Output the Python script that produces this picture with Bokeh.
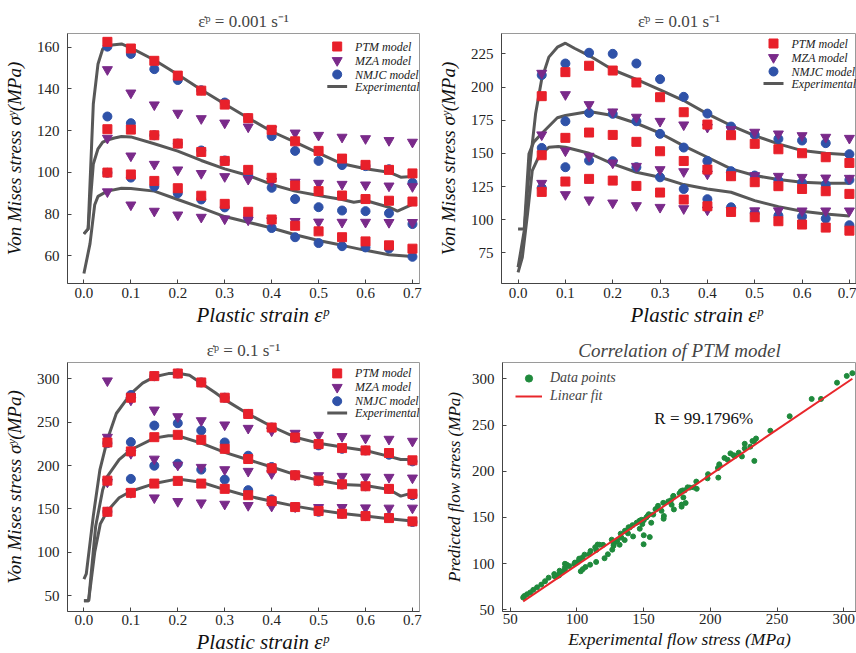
import numpy as np
from bokeh.plotting import figure
from bokeh.layouts import column, row
from bokeh.models import (Legend, LegendItem, FixedTicker, NumeralTickFormatter,
                          Label, Range1d, Title)
from bokeh.embed import file_html
from bokeh.resources import INLINE

# ---------------- data ----------------
strain_grid = [0.05, 0.1, 0.15, 0.2, 0.25, 0.3, 0.35, 0.4, 0.45, 0.5, 0.55, 0.6, 0.65, 0.7]
strain_ticks = [0.0, 0.1, 0.2, 0.3, 0.4, 0.5, 0.6, 0.7]
legend_labels = ["PTM model", "MZA model", "NMJC model", "Experimental"]

# rate 0.001 s^-1
r1_title = "ε̇ᵖ = 0.001 s⁻¹"
r1_yticks = [60, 80, 100, 120, 140, 160]
r1_ptm_hi = [162.6, 159.4, 153.5, 146.4, 139.2, 132.5, 126.0, 120.4, 114.9, 110.3, 106.6, 103.6, 101.2, 99.5]
r1_ptm_mid = [120.7, 120.5, 117.8, 113.8, 109.8, 105.5, 101.2, 97.4, 93.7, 91.0, 88.9, 87.2, 86.4, 86.0]
r1_ptm_lo = [99.9, 99.0, 95.9, 92.4, 88.8, 84.9, 81.1, 77.4, 74.4, 71.7, 68.9, 66.9, 65.0, 63.4]
r1_mza_hi = [149.3, 138.1, 132.4, 128.4, 125.8, 123.7, 121.8, 120.6, 118.9, 117.8, 116.9, 116.2, 115.3, 114.5]
r1_mza_mid = [116.4, 107.9, 103.9, 101.2, 99.5, 98.0, 96.7, 95.8, 95.3, 94.8, 94.3, 94.0, 93.5, 93.2]
r1_mza_lo = [90.7, 84.4, 81.4, 79.6, 78.5, 77.7, 77.2, 76.8, 76.5, 76.2, 76.1, 76.1, 76.0, 76.0]
r1_nmjc_hi = [160.3, 156.8, 149.5, 144.3, 139.4, 133.5, 126.0, 117.4, 110.3, 105.5, 103.5, 103.0, 101.5, 95.0]
r1_nmjc_mid = [126.8, 123.6, 117.8, 113.8, 110.5, 105.7, 98.7, 92.6, 87.2, 83.3, 81.7, 81.4, 80.4, 75.2]
r1_nmjc_lo = [99.8, 97.5, 93.2, 90.0, 87.0, 83.2, 78.2, 73.3, 68.9, 66.1, 64.6, 64.0, 63.5, 59.5]
r1_exp_hi_x = [0.0, 0.009, 0.02, 0.03, 0.04, 0.05, 0.08, 0.1, 0.15, 0.2, 0.25, 0.3, 0.35, 0.4, 0.45, 0.5, 0.55, 0.6, 0.65, 0.675, 0.7]
r1_exp_hi_y = [70.5, 72.9, 132.8, 152.0, 159.2, 160.8, 161.6, 159.7, 153.9, 146.9, 139.6, 132.8, 126.1, 119.6, 114.5, 109.2, 104.1, 101.7, 100.1, 97.7, 98.0]
r1_exp_mid_x = [0.0, 0.009, 0.02, 0.03, 0.04, 0.05, 0.065, 0.08, 0.1, 0.15, 0.2, 0.25, 0.3, 0.35, 0.4, 0.45, 0.5, 0.55, 0.575, 0.6, 0.65, 0.668, 0.7]
r1_exp_mid_y = [70.5, 72.9, 104.0, 111.3, 114.5, 115.5, 116.5, 117.2, 117.0, 113.7, 110.2, 105.7, 101.7, 98.5, 94.2, 91.0, 88.9, 87.0, 85.7, 86.5, 83.3, 81.4, 84.6]
r1_exp_lo_x = [0.0, 0.013, 0.023, 0.03, 0.05, 0.08, 0.1, 0.15, 0.2, 0.25, 0.3, 0.35, 0.4, 0.45, 0.5, 0.55, 0.6, 0.65, 0.7]
r1_exp_lo_y = [51.5, 65.8, 84.5, 88.5, 91.0, 92.4, 92.3, 91.0, 87.0, 83.0, 78.8, 76.1, 73.3, 70.1, 67.3, 65.0, 62.6, 60.5, 59.7]

# rate 0.01 s^-1
r2_title = "ε̇ᵖ = 0.01 s⁻¹"
r2_yticks = [75, 100, 125, 150, 175, 200, 225]
r2_ptm_hi = [193.1, 211.2, 216.0, 212.4, 203.4, 192.3, 181.0, 171.7, 163.7, 157.2, 153.1, 150.1, 147.1, 142.8]
r2_ptm_mid = [148.6, 161.7, 165.7, 163.9, 158.7, 151.6, 144.3, 137.8, 132.8, 128.3, 125.3, 123.2, 121.5, 119.5]
r2_ptm_lo = [121.0, 128.8, 130.8, 129.5, 125.5, 120.5, 115.2, 110.2, 105.9, 101.9, 98.9, 96.4, 94.1, 91.8]
r2_mza_hi = [210.4, 194.3, 186.8, 181.3, 177.3, 174.2, 171.5, 169.7, 168.0, 166.0, 164.7, 163.4, 162.2, 161.4]
r2_mza_mid = [164.0, 151.9, 147.9, 142.8, 140.3, 137.8, 136.3, 134.5, 133.8, 133.3, 132.8, 132.0, 131.5, 131.3]
r2_mza_lo = [127.5, 119.0, 115.0, 112.7, 110.7, 109.4, 108.4, 107.4, 106.9, 106.8, 106.8, 106.7, 106.7, 106.7]
r2_nmjc_hi = [209.0, 217.7, 225.8, 225.0, 217.7, 205.9, 192.6, 180.0, 170.2, 164.0, 160.9, 159.7, 157.7, 149.4]
r2_nmjc_mid = [154.1, 174.2, 180.5, 179.8, 174.2, 164.7, 154.4, 144.3, 136.6, 133.3, 129.5, 128.0, 126.5, 130.0]
r2_nmjc_lo = [124.0, 139.6, 144.6, 144.1, 139.6, 132.0, 123.2, 115.5, 109.4, 105.2, 103.1, 102.4, 100.9, 95.9]
r2_exp_hi_x = [0.0, 0.013, 0.023, 0.037, 0.05, 0.065, 0.083, 0.1, 0.12, 0.15, 0.2, 0.25, 0.3, 0.35, 0.4, 0.45, 0.5, 0.55, 0.6, 0.65, 0.7]
r2_exp_hi_y = [64.2, 91.8, 134.5, 179.8, 206.0, 222.5, 230.0, 233.0, 229.0, 223.7, 213.0, 205.7, 197.9, 189.8, 179.8, 171.0, 163.4, 157.2, 152.1, 150.1, 149.0]
r2_exp_mid_x = [0.0, 0.013, 0.023, 0.033, 0.05, 0.083, 0.1, 0.15, 0.2, 0.25, 0.3, 0.35, 0.4, 0.45, 0.5, 0.55, 0.6, 0.65, 0.7]
r2_exp_mid_y = [93.0, 93.0, 149.6, 158.5, 165.0, 176.8, 178.5, 181.5, 178.5, 172.7, 165.2, 155.7, 147.1, 138.3, 133.3, 130.3, 128.3, 127.5, 127.5]
r2_exp_lo_x = [0.0, 0.009, 0.02, 0.03, 0.045, 0.05, 0.065, 0.085, 0.1, 0.15, 0.2, 0.25, 0.3, 0.35, 0.4, 0.45, 0.5, 0.55, 0.6, 0.65, 0.7]
r2_exp_lo_y = [60.4, 71.7, 104.4, 137.0, 148.5, 150.0, 154.6, 155.2, 154.6, 150.1, 142.1, 135.8, 132.0, 126.5, 123.2, 120.7, 114.4, 109.9, 106.4, 104.4, 102.9]

# rate 0.1 s^-1
r3_title = "ε̇ᵖ = 0.1 s⁻¹"
r3_yticks = [50, 100, 150, 200, 250, 300]
r3_ptm_hi = [226.6, 278.2, 303.1, 306.1, 295.8, 278.2, 259.5, 243.8, 232.3, 224.7, 220.1, 217.4, 214.4, 206.0]
r3_ptm_mid = [182.6, 216.3, 232.7, 235.4, 229.7, 219.3, 207.5, 196.8, 188.8, 182.6, 178.4, 176.1, 173.1, 167.4]
r3_ptm_lo = [146.7, 168.5, 179.2, 182.3, 179.2, 173.1, 165.8, 158.9, 152.1, 147.5, 144.4, 141.7, 139.4, 135.6]
r3_mza_hi = [297.7, 275.5, 264.1, 256.4, 251.8, 246.9, 243.0, 240.0, 237.3, 235.0, 233.5, 231.6, 230.4, 228.1]
r3_mza_mid = [232.7, 214.0, 207.5, 200.5, 198.0, 195.3, 193.4, 190.7, 189.1, 188.4, 187.6, 186.9, 186.5, 185.7]
r3_mza_lo = [181.0, 169.0, 162.8, 158.6, 157.0, 155.5, 154.0, 153.2, 152.4, 151.7, 151.7, 151.3, 151.0, 151.0]
r3_nmjc_hi = [225.8, 281.3, 303.0, 306.1, 295.8, 278.2, 259.5, 243.8, 231.5, 223.2, 219.3, 217.4, 212.5, 204.8]
r3_nmjc_mid = [182.6, 227.0, 246.1, 248.8, 240.4, 226.6, 211.3, 198.3, 188.8, 181.9, 178.0, 176.1, 173.1, 165.8]
r3_nmjc_lo = [146.7, 184.6, 199.8, 202.1, 195.3, 183.8, 171.6, 160.9, 152.1, 146.7, 144.4, 141.7, 140.5, 134.9]
r3_exp_hi_x = [0.0, 0.005, 0.02, 0.034, 0.05, 0.069, 0.1, 0.125, 0.15, 0.18, 0.2, 0.225, 0.25, 0.28, 0.3, 0.35, 0.4, 0.45, 0.5, 0.55, 0.6, 0.65, 0.675, 0.7]
r3_exp_hi_y = [69.0, 75.0, 142.0, 195.0, 230.0, 260.0, 283.0, 295.0, 302.3, 306.0, 306.5, 304.0, 295.0, 284.0, 276.0, 259.5, 245.0, 232.7, 225.8, 221.3, 217.4, 210.6, 207.0, 207.0]
r3_exp_mid_x = [0.0, 0.01, 0.025, 0.04, 0.05, 0.075, 0.1, 0.15, 0.18, 0.2, 0.25, 0.3, 0.35, 0.4, 0.45, 0.5, 0.55, 0.6, 0.65, 0.675, 0.7]
r3_exp_mid_y = [44.0, 44.0, 130.0, 172.0, 187.6, 206.7, 218.2, 231.6, 234.3, 234.3, 225.8, 215.1, 206.7, 198.3, 189.5, 183.0, 178.0, 176.9, 172.3, 164.7, 168.5]
r3_exp_lo_x = [0.0, 0.01, 0.023, 0.035, 0.05, 0.075, 0.1, 0.15, 0.2, 0.25, 0.3, 0.35, 0.4, 0.45, 0.5, 0.55, 0.6, 0.65, 0.7]
r3_exp_lo_y = [44.0, 44.0, 100.0, 133.0, 147.5, 162.8, 170.4, 179.2, 184.6, 180.7, 172.3, 164.7, 158.9, 153.2, 148.6, 144.8, 141.7, 138.7, 136.0]

stress_ticks = [50, 100, 150, 200, 250, 300]
r_text = "R = 99.1796%"

# ---------------- style ----------------
FONT = "Liberation Serif"
C_PTM = "#e8202a"
C_MZA = "#7a2a8a"
C_NMJC = "#2f52a8"
C_EXP = "#585858"
C_GREEN = "#1f8a3c"
C_FIT = "#e8262b"


def style_axes(p, xticks, yticks, xfmt, bottom_pad):
    p.xaxis.ticker = FixedTicker(ticks=xticks)
    p.yaxis.ticker = FixedTicker(ticks=yticks)
    if xfmt:
        p.xaxis.formatter = NumeralTickFormatter(format="0.0")
    p.xgrid.visible = False
    p.ygrid.visible = False
    p.outline_line_color = "#9a9a9a"
    p.outline_line_width = 1
    for ax in p.axis:
        ax.major_tick_in = 4
        ax.major_tick_out = 0
        ax.minor_tick_in = 0
        ax.minor_tick_out = 0
        ax.axis_line_color = "#444444"
        ax.major_tick_line_color = "#444444"
        ax.major_label_text_font = FONT
        ax.major_label_text_font_size = "15px"
        ax.major_label_text_color = "#222222"
        ax.major_label_text_line_height = 1.0
        ax.axis_label_text_font = FONT
        ax.axis_label_text_font_style = "italic"
        ax.axis_label_text_color = "#111111"
        ax.axis_label_text_line_height = 1.0
    p.yaxis.major_label_standoff = 8
    p.yaxis.axis_label_standoff = 9
    p.xaxis.major_label_standoff = bottom_pad
    p.xaxis.axis_label_standoff = bottom_pad


def strain_panel(title, yticks, yr, ptm, mza, nmjc, exps, w, h, left, right, top, bottom,
                 pad, leg_rows):
    p = figure(width=w, height=h, x_range=Range1d(-0.035, 0.715), y_range=Range1d(*yr),
               output_backend="svg", toolbar_location=None,
               min_border_left=left, min_border_right=right,
               min_border_top=top, min_border_bottom=bottom)
    p.title.text = title
    p.title.align = "center"
    p.title.text_font = FONT
    p.title.text_font_size = "17px"
    p.title.text_font_style = "normal"
    p.title.standoff = 5
    for ex, ey in exps:
        p.line(ex, ey, line_color=C_EXP, line_width=3)
    xs = strain_grid * 3
    p.scatter(xs, nmjc[0] + nmjc[1] + nmjc[2], marker="circle", size=9,
              fill_color=C_NMJC, line_color=C_NMJC)
    p.scatter(xs, mza[0] + mza[1] + mza[2], marker="inverted_triangle", size=10,
              fill_color=C_MZA, line_color=C_MZA)
    p.scatter(xs, ptm[0] + ptm[1] + ptm[2], marker="square", size=9,
              fill_color=C_PTM, line_color=C_PTM)
    p.yaxis.axis_label = "Von Mises stress σʸ(MPa)"
    p.yaxis.axis_label_text_font_size = "19px"
    style_axes(p, strain_ticks, yticks, True, pad)
    p.add_layout(Title(text="Plastic strain εᵖ", align="left", offset=129,
                       text_font=FONT, text_font_style="italic", text_font_size="21px",
                       text_color="#111111", standoff=0), "below")

    # legend drawn in frame pixel units (decoration only)
    fw = w - left - right
    fh = h - top - bottom
    p.extra_x_ranges = {"px": Range1d(0, fw)}
    p.extra_y_ranges = {"px": Range1d(0, fh)}
    ly = [fh - r for r in leg_rows]
    mx, tx = 272, 290
    kw = dict(x_range_name="px", y_range_name="px")
    p.scatter([mx], [ly[0]], marker="square", size=9, fill_color=C_PTM, line_color=C_PTM, **kw)
    p.scatter([mx], [ly[1]], marker="inverted_triangle", size=10, fill_color=C_MZA,
              line_color=C_MZA, **kw)
    p.scatter([mx], [ly[2]], marker="circle", size=9, fill_color=C_NMJC, line_color=C_NMJC, **kw)
    p.line([mx - 10, mx + 10], [ly[3], ly[3]], line_color=C_EXP, line_width=3, **kw)
    for yy, lab in zip(ly, legend_labels):
        p.add_layout(Label(x=tx, y=yy, text=lab, text_font=FONT, text_font_style="italic",
                           text_font_size="12px", text_baseline="middle",
                           text_color="#222222", **kw))
    return p


p1 = strain_panel(r1_title, r1_yticks, (46.7, 166.6),
                  (r1_ptm_hi, r1_ptm_mid, r1_ptm_lo), (r1_mza_hi, r1_mza_mid, r1_mza_lo),
                  (r1_nmjc_hi, r1_nmjc_mid, r1_nmjc_lo),
                  [(r1_exp_hi_x, r1_exp_hi_y), (r1_exp_mid_x, r1_exp_mid_y), (r1_exp_lo_x, r1_exp_lo_y)],
                  430, 330, 64, 11, 33, 47, 4, [13, 27, 41, 53])
p2 = strain_panel(r2_title, r2_yticks, (52.0, 240.3),
                  (r2_ptm_hi, r2_ptm_mid, r2_ptm_lo), (r2_mza_hi, r2_mza_mid, r2_mza_lo),
                  (r2_nmjc_hi, r2_nmjc_mid, r2_nmjc_lo),
                  [(r2_exp_hi_x, r2_exp_hi_y), (r2_exp_mid_x, r2_exp_mid_y), (r2_exp_lo_x, r2_exp_lo_y)],
                  426, 330, 71, 0, 33, 47, 4, [10, 24, 38, 50])
p3 = strain_panel(r3_title, r3_yticks, (31.7, 318.8),
                  (r3_ptm_hi, r3_ptm_mid, r3_ptm_lo), (r3_mza_hi, r3_mza_mid, r3_mza_lo),
                  (r3_nmjc_hi, r3_nmjc_mid, r3_nmjc_lo),
                  [(r3_exp_hi_x, r3_exp_hi_y), (r3_exp_mid_x, r3_exp_mid_y), (r3_exp_lo_x, r3_exp_lo_y)],
                  430, 323, 64, 11, 32, 40, 3, [11, 25, 39, 51])

# ---------------- correlation panel ----------------
exp_sets = [(r1_exp_hi_x, r1_exp_hi_y, r1_ptm_hi), (r1_exp_mid_x, r1_exp_mid_y, r1_ptm_mid),
            (r1_exp_lo_x, r1_exp_lo_y, r1_ptm_lo),
            (r2_exp_hi_x, r2_exp_hi_y, r2_ptm_hi), (r2_exp_mid_x, r2_exp_mid_y, r2_ptm_mid),
            (r2_exp_lo_x, r2_exp_lo_y, r2_ptm_lo),
            (r3_exp_hi_x, r3_exp_hi_y, r3_ptm_hi), (r3_exp_mid_x, r3_exp_mid_y, r3_ptm_mid),
            (r3_exp_lo_x, r3_exp_lo_y, r3_ptm_lo)]
exp_flow, pred_flow = [], []
for ex, ey, pt in exp_sets:
    lookup = {round(a, 3): b for a, b in zip(ex, ey)}
    for g, v in zip(strain_grid, pt):
        exp_flow.append(lookup[round(g, 3)])
        pred_flow.append(v)
slope, intercept = np.polyfit(exp_flow, pred_flow, 1)
fit_x = [min(exp_flow), max(exp_flow)]
fit_y = [slope * v + intercept for v in fit_x]

p4 = figure(width=426, height=323, x_range=Range1d(44.2, 309.6), y_range=Range1d(48.3, 317.6),
            output_backend="svg", toolbar_location=None,
            min_border_left=72, min_border_right=0, min_border_top=32, min_border_bottom=40)
p4.title.text = "Correlation of PTM model"
p4.title.align = "center"
p4.title.text_font = FONT
p4.title.text_font_size = "19px"
p4.title.text_font_style = "italic"
p4.title.standoff = 4
r_pts = p4.scatter(exp_flow, pred_flow, marker="circle", size=5, fill_color=C_GREEN, line_color=C_GREEN)
r_fit = p4.line(fit_x, fit_y, line_color=C_FIT, line_width=2)
p4.xaxis.axis_label = "Experimental flow stress (MPa)"
p4.yaxis.axis_label = "Predicted flow stress (MPa)"
p4.xaxis.axis_label_text_font_size = "17.5px"
p4.yaxis.axis_label_text_font_size = "17px"
style_axes(p4, stress_ticks, stress_ticks, False, 2)
p4.yaxis.axis_label_standoff = 5
leg4 = Legend(items=[LegendItem(label="Data points", renderers=[r_pts]),
                     LegendItem(label="Linear fit", renderers=[r_fit])],
              location=(11, 204), glyph_width=27, glyph_height=18, label_height=14,
              spacing=0, padding=2, margin=0, label_standoff=8,
              border_line_alpha=0, background_fill_alpha=0,
              label_text_font=FONT, label_text_font_style="italic",
              label_text_font_size="14px", label_text_line_height=1.0)
p4.add_layout(leg4)
p4.add_layout(Label(x=158, y=257, text=r_text, text_baseline="middle",
                    text_font=FONT, text_font_size="17px", text_color="#111111"))

layout = column(row(p1, p2), row(p3, p4))
open("out.html", "w").write(file_html(layout, INLINE))
